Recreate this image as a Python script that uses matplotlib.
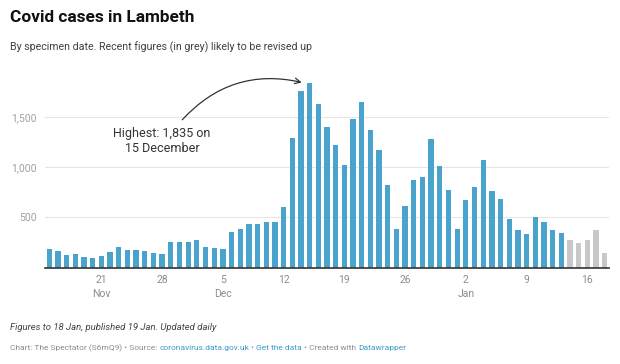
import matplotlib
matplotlib.use('Agg')
import matplotlib.pyplot as plt

plt.rcParams['font.family'] = ['Roboto', 'DejaVu Sans']

# daily cases, 15 Nov to 18 Jan (last five are provisional)
cases = [182, 166, 123, 136, 106, 99, 116, 152, 202, 172, 175, 166, 149, 139,
         258, 255, 258, 272, 209, 199, 185, 354, 381, 434, 430, 454, 454, 606,
         1291, 1758, 1835, 1632, 1397, 1215, 1023, 1474, 1649, 1371, 1169, 825,
         381, 616, 868, 901, 1278, 1013, 775, 381, 675, 805, 1066, 758, 679,
         483, 374, 338, 500, 454, 371, 344,
         272, 248, 275, 377, 146]
n_provisional = 5
tick_idx = [6, 13, 20, 27, 34, 41, 48, 55, 62]
tick_labels = ['21\nNov', '28', '5\nDec', '12', '19', '26', '2\nJan', '9', '16']
y_ticks = [500, 1000, 1500]
y_labels = ['500', '1,000', '1,500']

W, H = 620, 364
fig = plt.figure(figsize=(W / 100, H / 100), dpi=100)
ax = fig.add_axes([45 / W, (H - 267.7) / H, 564 / W, 191.1 / H])

x = list(range(len(cases)))
colors = ['#4aa3cc'] * (len(cases) - n_provisional) + ['#c8c8c8'] * n_provisional
ax.bar(x, cases, width=0.61, color=colors, zorder=2)

ax.set_xlim(-0.5, 64.5)
ax.set_ylim(0, 1900)
for s in ['top', 'right', 'left']:
    ax.spines[s].set_visible(False)
ax.spines['bottom'].set_color('#333333')
ax.spines['bottom'].set_linewidth(1.2)
ax.spines['bottom'].set_zorder(3)

ax.set_yticks(y_ticks)
ax.set_yticklabels(y_labels)
ax.yaxis.grid(True, color='#e6e6e6', linewidth=0.8, zorder=0)
ax.tick_params(axis='y', length=0, pad=6, labelsize=7.5, labelcolor='#a0a0a0')
ax.set_xticks(tick_idx)
ax.set_xticklabels(tick_labels, linespacing=1.5)
ax.tick_params(axis='x', length=0, pad=5, labelsize=7.5, labelcolor='#8c8c8c')

# annotation
ax.annotate('', xy=(29.4, 1836), xytext=(15.1, 1450),
            arrowprops=dict(arrowstyle='->', color='#333333', lw=0.9,
                            connectionstyle='arc3,rad=-0.3'))
ax.text(13.0, 1260, 'Highest: 1,835 on\n15 December', ha='center', va='center',
        fontsize=9, color='#333333', linespacing=1.25)

# header
fig.text(10 / W, 1 - 18 / H, 'Covid cases in Lambeth', fontsize=12.4,
         fontweight='bold', color='#111111', va='center')
fig.text(10 / W, 1 - 47 / H,
         'By specimen date. Recent figures (in grey) likely to be revised up',
         fontsize=7.7, color='#404040', va='center')

# footer
fig.text(10 / W, 1 - 327 / H, 'Figures to 18 Jan, published 19 Jan. Updated daily',
         fontsize=6.8, style='italic', color='#444444', va='center')

pieces = [('Chart: The Spectator (S6mQ9) \u2022 Source: ', '#8c8c8c'),
          ('coronavirus.data.gov.uk', '#3a9bc9'),
          (' \u2022 ', '#8c8c8c'),
          ('Get the data', '#3a9bc9'),
          (' \u2022 Created with ', '#8c8c8c'),
          ('Datawrapper', '#3a9bc9')]
renderer = fig.canvas.get_renderer()
xpos = 10
for txt, col in pieces:
    t = fig.text(xpos / W, 1 - 348 / H, txt, fontsize=6.0, color=col, va='center')
    bb = t.get_window_extent(renderer=renderer)
    xpos += bb.width

fig.savefig('out.png', dpi=100)
